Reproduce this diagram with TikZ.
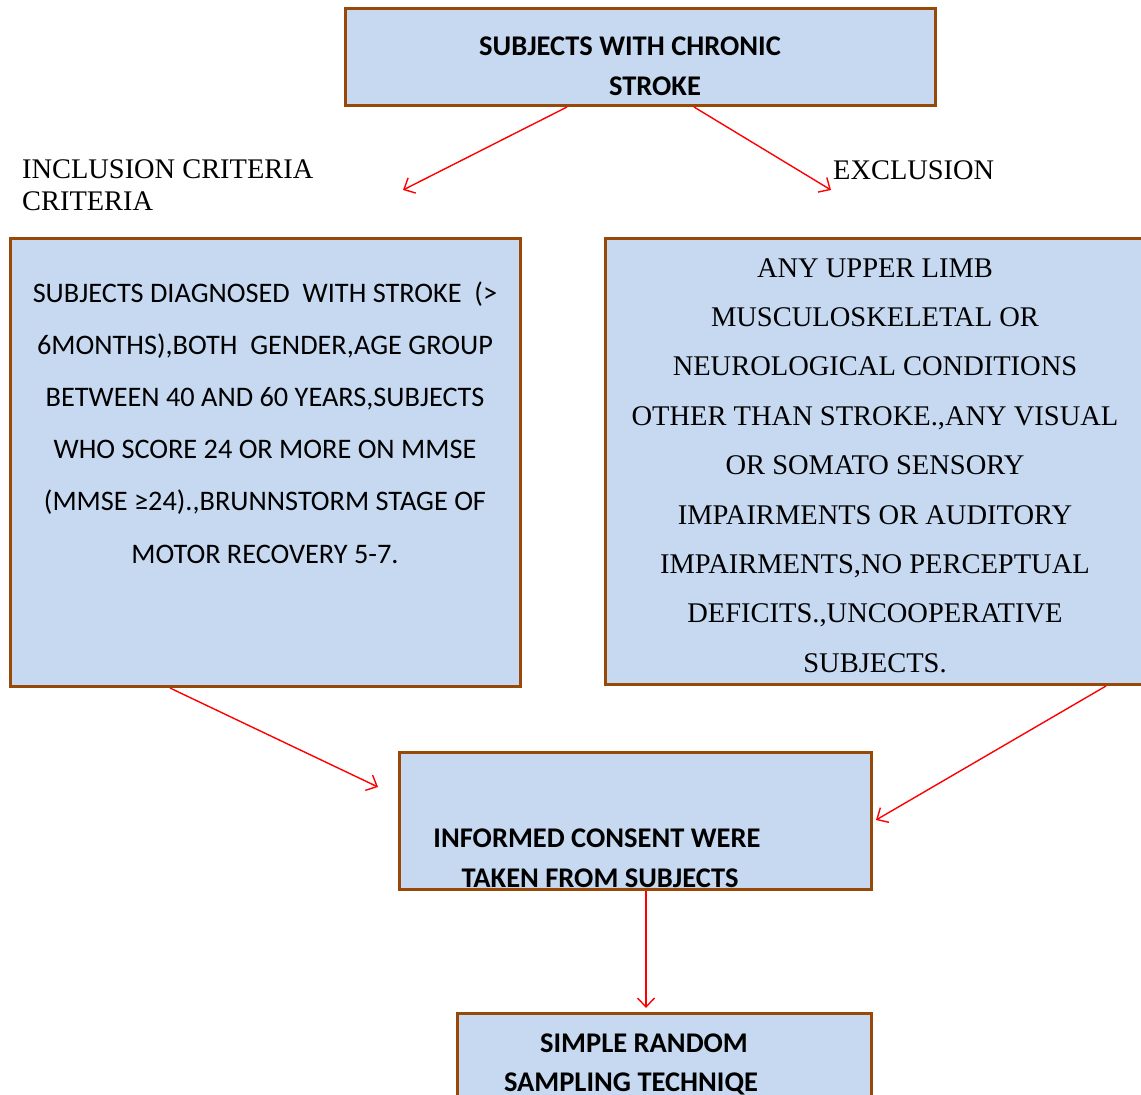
\documentclass[tikz,border=0pt]{standalone}
\usepackage{fontspec}
\setmainfont{Liberation Serif}
\newfontfamily\calfont{Carlito}
\usetikzlibrary{arrows.meta}
\definecolor{boxfill}{HTML}{C6D9F1}
\definecolor{boxline}{HTML}{984807}
\definecolor{arrred}{HTML}{FF0000}
\begin{document}
\begin{tikzpicture}[x=1pt,y=-1pt,
  box/.style={draw=boxline,line width=3pt,fill=boxfill},
  conn/.style={draw=arrred,line width=1.4pt,-{Straight Barb[length=9pt,width=17pt,line width=1.4pt]}},
  boldtxt/.style={font=\calfont\fontsize{28.5}{32}\selectfont\bfseries,inner sep=0pt,anchor=base},
  caltxt/.style={font=\calfont\fontsize{28.3}{32}\selectfont,inner sep=0pt,anchor=base},
  sertxt/.style={font=\fontsize{28.5}{32}\selectfont,inner sep=0pt,anchor=base},
  labtxt/.style={font=\fontsize{28.4}{32}\selectfont,inner sep=0pt,anchor=base west}]
\useasboundingbox (0,0) rectangle (1141,1095);
% boxes
\draw[box] (345,8) rectangle (935,105);
\draw[box] (10,238) rectangle (520,686);
\draw[box] (605,238) rectangle (1150,684);
\draw[box] (399,752) rectangle (871,889);
\draw[box] (457,1013) rectangle (871,1110);
% top text
\node[boldtxt] (t1) at (630,55) {SUBJECTS WITH CHRONIC};
\node[boldtxt] (t2) at (655,95) {STROKE};
% labels
\node[labtxt] (inc1) at (22,178) {INCLUSION CRITERIA};
\node[labtxt] (inc2) at (22,210) {CRITERIA};
\node[labtxt] (exc) at (833,179) {EXCLUSION};
% left box text
\foreach \t [count=\i] in {{SUBJECTS DIAGNOSED\ \ WITH STROKE\ \ (>},{6MONTHS),BOTH\ \ GENDER,AGE GROUP},{BETWEEN 40 AND 60 YEARS,SUBJECTS},{WHO SCORE 24 OR MORE ON MMSE},{(MMSE ≥24).,BRUNNSTORM STAGE OF},{MOTOR RECOVERY 5-7.}}
  \node[caltxt] (L\i) at (265,{302+52.2*(\i-1)}) {\t};
% right box text
\foreach \t [count=\i] in {{ANY UPPER LIMB},{MUSCULOSKELETAL OR},{NEUROLOGICAL CONDITIONS},{OTHER THAN STROKE.,ANY VISUAL},{OR SOMATO SENSORY},{IMPAIRMENTS OR AUDITORY},{IMPAIRMENTS,NO PERCEPTUAL},{DEFICITS.,UNCOOPERATIVE},{SUBJECTS.}}
  \node[sertxt] (R\i) at (875,{277+49.4*(\i-1)}) {\t};
% middle text
\node[boldtxt] (m1) at (597,847) {INFORMED CONSENT WERE};
\node[boldtxt] (m2) at (600,887) {TAKEN FROM SUBJECTS};
% bottom text
\node[boldtxt] (b1) at (644,1052) {SIMPLE RANDOM};
\node[boldtxt] (b2) at (631,1091) {SAMPLING TECHNIQE};
% arrow coordinates
\coordinate (a1s) at (567,107); \coordinate (a1e) at (403,190);
\coordinate (a2s) at (694,107); \coordinate (a2e) at (831,190);
\coordinate (a3s) at (170,688); \coordinate (a3e) at (378,787);
\coordinate (a4s) at (1106,686); \coordinate (a4e) at (876,820);
\coordinate (a5s) at (646,891); \coordinate (a5e) at (646,1008);
\draw[conn] (a1s) -- (a1e);
\draw[conn] (a2s) -- (a2e);
\draw[conn] (a3s) -- (a3e);
\draw[conn] (a4s) -- (a4e);
\draw[conn] (a5s) -- (a5e);
\end{tikzpicture}
\end{document}
